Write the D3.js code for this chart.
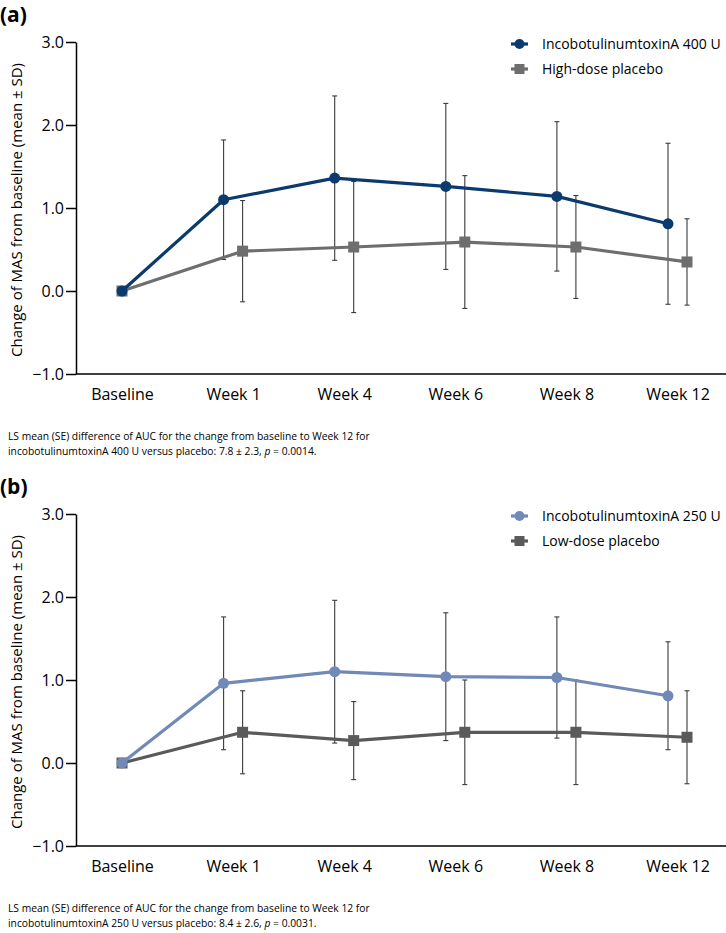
<!DOCTYPE html>
<html>
<head>
<meta charset="utf-8">
<script src="https://cdn.jsdelivr.net/npm/d3@7/dist/d3.min.js"></script>
<style>
  html, body { margin: 0; padding: 0; background: #fff; }
  svg { display: block; font-family: "Open Sans", "Noto Sans", sans-serif; }
</style>
</head>
<body>
<svg id="chart" width="726" height="933"></svg>
<script>
// ---- Data ----
const categories = ["Baseline", "Week 1", "Week 4", "Week 6", "Week 8", "Week 12"];
const yTicks = [-1, 0, 1, 2, 3];

const incoA400Mean = [0, 1.10, 1.36, 1.26, 1.14, 0.81];
const incoA400SD   = [0, 0.72, 0.99, 1.00, 0.90, 0.97];
const highPlaceboMean = [0, 0.48, 0.53, 0.59, 0.53, 0.35];
const highPlaceboSD   = [0, 0.61, 0.79, 0.80, 0.62, 0.52];

const incoA250Mean = [0, 0.96, 1.10, 1.04, 1.03, 0.81];
const incoA250SD   = [0, 0.80, 0.86, 0.77, 0.73, 0.65];
const lowPlaceboMean = [0, 0.37, 0.27, 0.37, 0.37, 0.31];
const lowPlaceboSD   = [0, 0.50, 0.47, 0.63, 0.63, 0.56];

const panelLabels = ["(a)", "(b)"];
const activeNames = ["IncobotulinumtoxinA 400 U", "IncobotulinumtoxinA 250 U"];
const placeboNames = ["High-dose placebo", "Low-dose placebo"];
const footnoteLine1 = "LS mean (SE) difference of AUC for the change from baseline to Week 12 for";
const footnoteDose = ["incobotulinumtoxinA 400 U versus placebo: 7.8 \u00B1 2.3, ", "incobotulinumtoxinA 250 U versus placebo: 8.4 \u00B1 2.6, "];
const footnoteP = [" = 0.0014.", " = 0.0031."];
const yTitle = "Change of MAS from baseline (mean \u00B1 SD)";

const svg = d3.select("#chart");

function drawPanel(idx, top, active, activeSD, placebo, placeboSD, activeColor, placeboColor) {
  const g = svg.append("g").attr("transform", `translate(0,${top})`);
  const plotLeft = 76, plotRight = 726, yTop = 42, yBottom = 374;

  const x = d3.scalePoint().domain(categories).range([122, 677.5]);
  const y = d3.scaleLinear().domain([-1, 3]).range([yBottom, yTop]);
  const off = 9.5;
  const xa = (c, i) => x(c) - (i === 0 ? 0 : off);
  const xp = (c, i) => x(c) + (i === 0 ? 0 : off);

  // panel label
  g.append("text").attr("x", 0).attr("y", 22)
    .attr("font-size", 21).attr("font-weight", "bold").attr("fill", "#000")
    .text(panelLabels[idx]);

  // y axis
  const yAxis = d3.axisLeft(y).tickValues(yTicks).tickSize(10).tickSizeOuter(0)
    .tickFormat(d => d < 0 ? "\u2212" + Math.abs(d).toFixed(1) : d.toFixed(1));
  const ya = g.append("g").attr("transform", `translate(${plotLeft},0)`).call(yAxis);
  ya.select(".domain").attr("stroke", "#000").attr("stroke-width", 1.5);
  ya.selectAll(".tick line").attr("stroke", "#000").attr("stroke-width", 1.5);
  ya.selectAll(".tick text").attr("font-size", 16).attr("fill", "#000")
    .attr("x", -12).attr("font-family", "'Open Sans', sans-serif");

  // x axis
  const xAxis = d3.axisBottom(x).tickSize(0).tickSizeOuter(0);
  const xg = g.append("g").attr("transform", `translate(0,${yBottom})`).call(xAxis);
  xg.select(".domain").remove();
  xg.append("line").attr("x1", plotLeft).attr("x2", plotRight).attr("y1", 0).attr("y2", 0)
    .attr("stroke", "#000").attr("stroke-width", 1.5);
  xg.selectAll(".tick text").attr("font-size", 16).attr("fill", "#000").attr("y", 15)
    .attr("font-family", "'Open Sans', sans-serif");

  // y title
  g.append("text")
    .attr("transform", `translate(22,${(yTop + yBottom) / 2 + 2}) rotate(-90)`)
    .attr("text-anchor", "middle").attr("font-size", 15).attr("fill", "#000")
    .text(yTitle);

  const errColor = "#3a3a3a";
  function errorBars(means, sds, xf) {
    const data = categories.map((c, i) => ({ c, i, m: means[i], s: sds[i] })).filter(d => d.s > 0);
    const eg = g.append("g");
    eg.selectAll("line.v").data(data).join("line")
      .attr("x1", d => xf(d.c, d.i)).attr("x2", d => xf(d.c, d.i))
      .attr("y1", d => y(d.m + d.s)).attr("y2", d => y(d.m - d.s))
      .attr("stroke", errColor).attr("stroke-width", 1.1);
    eg.selectAll("line.t").data(data).join("line")
      .attr("x1", d => xf(d.c, d.i) - 2.5).attr("x2", d => xf(d.c, d.i) + 2.5)
      .attr("y1", d => y(d.m + d.s)).attr("y2", d => y(d.m + d.s))
      .attr("stroke", errColor).attr("stroke-width", 1.1);
    eg.selectAll("line.b").data(data).join("line")
      .attr("x1", d => xf(d.c, d.i) - 2.5).attr("x2", d => xf(d.c, d.i) + 2.5)
      .attr("y1", d => y(d.m - d.s)).attr("y2", d => y(d.m - d.s))
      .attr("stroke", errColor).attr("stroke-width", 1.1);
  }
  errorBars(placebo, placeboSD, xp);
  errorBars(active, activeSD, xa);

  const line = (xf) => d3.line().x((d, i) => xf(categories[i], i)).y(d => y(d));

  // placebo line + squares
  g.append("path").datum(placebo).attr("d", line(xp))
    .attr("fill", "none").attr("stroke", placeboColor).attr("stroke-width", 3.2).attr("stroke-linejoin", "round");
  g.append("g").selectAll("rect").data(placebo).join("rect")
    .attr("x", (d, i) => xp(categories[i], i) - 5.5).attr("y", d => y(d) - 5.5)
    .attr("width", 11).attr("height", 11).attr("fill", placeboColor);

  // active line + circles
  g.append("path").datum(active).attr("d", line(xa))
    .attr("fill", "none").attr("stroke", activeColor).attr("stroke-width", 3.2).attr("stroke-linejoin", "round");
  g.append("g").selectAll("circle").data(active).join("circle")
    .attr("cx", (d, i) => xa(categories[i], i)).attr("cy", d => y(d))
    .attr("r", 5.5).attr("fill", activeColor);

  // legend
  const lg = g.append("g");
  const items = [
    { name: activeNames[idx], color: activeColor, shape: "circle", yy: 44 },
    { name: placeboNames[idx], color: placeboColor, shape: "square", yy: 69 }
  ];
  items.forEach(it => {
    lg.append("line").attr("x1", 511).attr("x2", 528).attr("y1", it.yy).attr("y2", it.yy)
      .attr("stroke", it.color).attr("stroke-width", 3.2);
    if (it.shape === "circle") {
      lg.append("circle").attr("cx", 519.5).attr("cy", it.yy).attr("r", 5).attr("fill", it.color);
    } else {
      lg.append("rect").attr("x", 514.5).attr("y", it.yy - 5).attr("width", 10).attr("height", 10).attr("fill", it.color);
    }
    lg.append("text").attr("x", 542).attr("y", it.yy).attr("dy", "0.35em")
      .attr("font-size", 14).attr("fill", "#000").text(it.name);
  });

  // footnote
  const fn = g.append("g").attr("font-size", 10.3).attr("fill", "#000");
  fn.append("text").attr("x", 8).attr("y", 440).text(footnoteLine1);
  const t2 = fn.append("text").attr("x", 8).attr("y", 455);
  t2.append("tspan").text(footnoteDose[idx]);
  t2.append("tspan").attr("font-style", "italic").text("p");
  t2.append("tspan").text(footnoteP[idx]);
}

drawPanel(0, 0, incoA400Mean, incoA400SD, highPlaceboMean, highPlaceboSD, "#0b3b6e", "#6e6e6e");
drawPanel(1, 472, incoA250Mean, incoA250SD, lowPlaceboMean, lowPlaceboSD, "#7189b7", "#5a5a5a");
</script>
</body>
</html>
